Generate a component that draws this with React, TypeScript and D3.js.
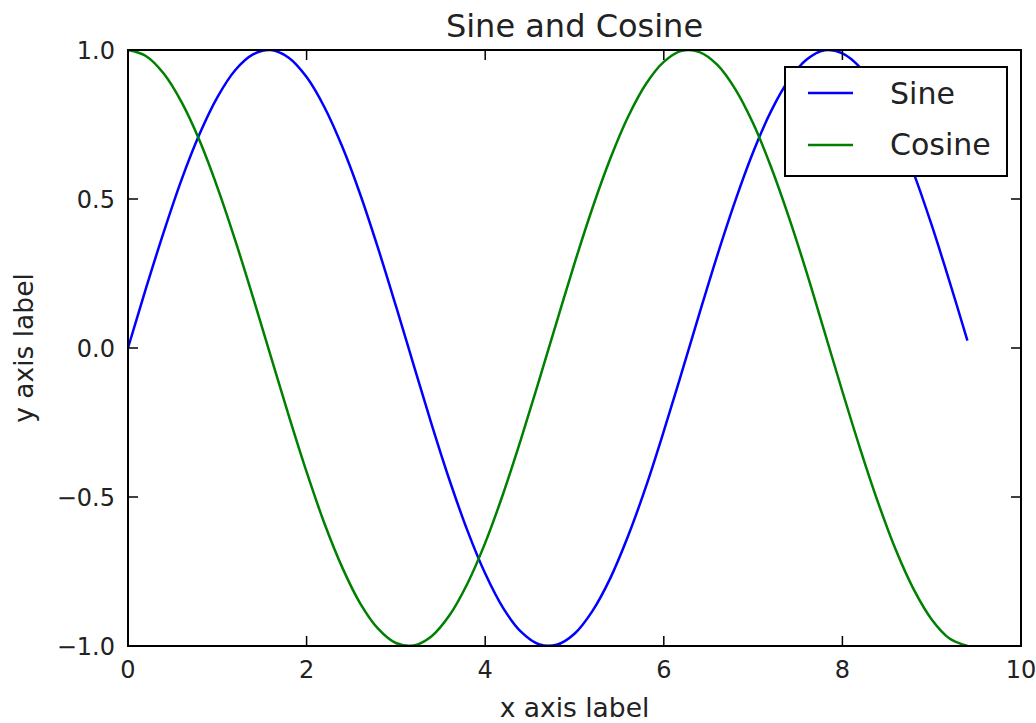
import * as d3 from 'd3';
import React from 'react';

// samples of the two curves (step 0.2)
const xs = [
  0, 0.2, 0.4, 0.6, 0.8, 1.0, 1.2, 1.4, 1.6, 1.8, 2.0, 2.2, 2.4, 2.6, 2.8, 3.0,
  3.2, 3.4, 3.6, 3.8, 4.0, 4.2, 4.4, 4.6, 4.8, 5.0, 5.2, 5.4, 5.6, 5.8, 6.0, 6.2,
  6.4, 6.6, 6.8, 7.0, 7.2, 7.4, 7.6, 7.8, 8.0, 8.2, 8.4, 8.6, 8.8, 9.0, 9.2, 9.4,
];
const sineValues = [
  0, 0.199, 0.389, 0.565, 0.717, 0.841, 0.932, 0.985, 1.0, 0.974, 0.909, 0.808, 0.675, 0.516, 0.335, 0.141,
  -0.058, -0.256, -0.443, -0.612, -0.757, -0.872, -0.952, -0.994, -0.996, -0.959, -0.883, -0.773, -0.631, -0.465, -0.279, -0.083,
  0.117, 0.312, 0.494, 0.657, 0.794, 0.899, 0.968, 0.999, 0.989, 0.941, 0.855, 0.734, 0.585, 0.412, 0.223, 0.025,
];
const cosineValues = [
  1, 0.98, 0.921, 0.825, 0.697, 0.54, 0.362, 0.17, -0.029, -0.227, -0.416, -0.589, -0.737, -0.857, -0.942, -0.99,
  -0.998, -0.967, -0.897, -0.791, -0.654, -0.49, -0.307, -0.112, 0.087, 0.284, 0.469, 0.635, 0.776, 0.886, 0.96, 0.997,
  0.993, 0.95, 0.869, 0.754, 0.608, 0.439, 0.253, 0.054, -0.146, -0.339, -0.519, -0.679, -0.811, -0.911, -0.975, -1.0,
];
const seriesNames = ['Sine', 'Cosine'];
const xTicks = [0, 2, 4, 6, 8, 10];
const yTicks = [-1, -0.5, 0, 0.5, 1];

const width = 1036;
const height = 723;
const marginLeft = 128;
const marginRight = 15;
const marginTop = 50;
const marginBottom = 77;
const font = 'DejaVu Sans, sans-serif';
const colors = ['#0000ff', '#008000'];

const App = () => {
  const x = d3.scaleLinear().domain([0, 10]).range([marginLeft, width - marginRight]);
  const y = d3.scaleLinear().domain([-1, 1]).range([height - marginBottom, marginTop]);
  const fmt = d3.format('.1f');

  const line = d3
    .line<number>()
    .x((d, i) => x(xs[i]))
    .y((d) => y(d))
    .curve(d3.curveCatmullRom);

  const series = [sineValues, cosineValues];
  const tickLen = 10;
  const x0 = x(0), x1 = x(10), y0 = y(-1), y1 = y(1);

  return (
    <svg width={width} height={height} style={{ position: 'absolute', left: 0, top: 0 }} fontFamily={font}>
      <rect width={width} height={height} fill="white" />
      <defs>
        <clipPath id="plot-clip">
          <rect x={x0} y={y1} width={x1 - x0} height={y0 - y1} />
        </clipPath>
      </defs>

      {/* curves */}
      <g clipPath="url(#plot-clip)" fill="none" strokeWidth="2.5">
        {series.map((vals, i) => (
          <path key={i} d={line(vals)} stroke={colors[i]} />
        ))}
      </g>

      {/* ticks, inward on all four sides (classic style) */}
      <g stroke="black" strokeWidth="1.5">
        {xTicks.map((t) => (
          <g key={t}>
            <line x1={x(t)} x2={x(t)} y1={y0} y2={y0 - tickLen} />
            <line x1={x(t)} x2={x(t)} y1={y1} y2={y1 + tickLen} />
          </g>
        ))}
        {yTicks.map((t) => (
          <g key={t}>
            <line x1={x0} x2={x0 + tickLen} y1={y(t)} y2={y(t)} />
            <line x1={x1} x2={x1 - tickLen} y1={y(t)} y2={y(t)} />
          </g>
        ))}
      </g>
      <rect x={x0} y={y1} width={x1 - x0} height={y0 - y1} fill="none" stroke="black" strokeWidth="2" />

      {/* tick labels */}
      <g fontSize="24" fill="#222">
        {xTicks.map((t) => (
          <text key={t} x={x(t)} y={y0 + 32} textAnchor="middle">{t}</text>
        ))}
        {yTicks.map((t) => (
          <text key={t} x={x0 - 13} y={y(t) + 9} textAnchor="end">{fmt(t)}</text>
        ))}
      </g>

      {/* labels */}
      <text x={(x0 + x1) / 2} y={37} textAnchor="middle" fontSize="32" fill="#222">Sine and Cosine</text>
      <text x={(x0 + x1) / 2} y={717} textAnchor="middle" fontSize="26.5" fill="#222">x axis label</text>
      <text transform={`translate(33,${(y0 + y1) / 2}) rotate(-90)`} textAnchor="middle" fontSize="26.5" fill="#222">y axis label</text>

      {/* legend */}
      <g>
        <rect x={785} y={67} width={222} height={109} fill="white" stroke="black" strokeWidth="2" />
        {seriesNames.map((name, i) => (
          <g key={name}>
            <line x1={808} x2={853} y1={93 + i * 52} y2={93 + i * 52} stroke={colors[i]} strokeWidth="2.5" />
            <text x={890} y={104 + i * 51} fontSize="30" fill="#222">{name}</text>
          </g>
        ))}
      </g>
    </svg>
  );
};

export default App;
